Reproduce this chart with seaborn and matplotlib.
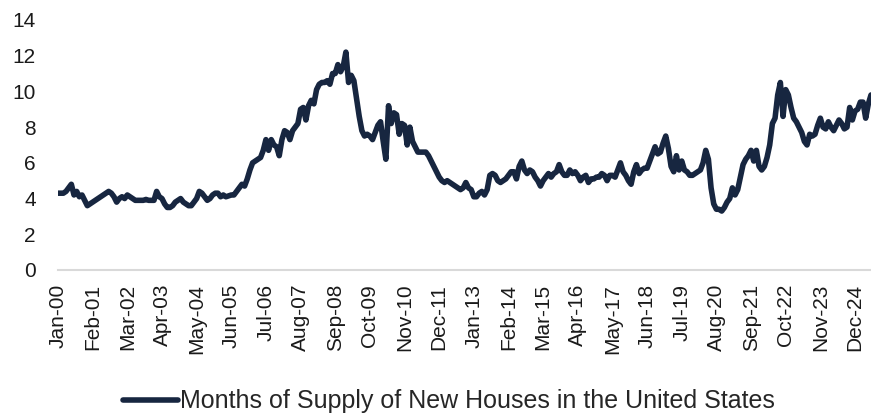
import numpy as np
import pandas as pd
import matplotlib.pyplot as plt
import seaborn as sns

# months of supply, Jan 2000 - Jun 2025
supply_2000 = [4.3, 4.3, 4.3, 4.4, 4.6, 4.8, 4.2, 4.4, 4.1, 4.2, 3.9, 3.6]
supply_2001 = [3.7, 3.8, 3.9, 4.0, 4.1, 4.2, 4.3, 4.4, 4.3, 4.1, 3.8, 4.0]
supply_2002 = [4.1, 4.0, 4.2, 4.1, 4.0, 3.9, 3.9, 3.9, 3.9, 3.95, 3.9, 3.9]
supply_2003 = [3.9, 4.4, 4.1, 4.0, 3.7, 3.5, 3.5, 3.6, 3.8, 3.9, 4.0, 3.8]
supply_2004 = [3.7, 3.6, 3.6, 3.8, 4.0, 4.4, 4.3, 4.1, 3.9, 4.0, 4.2, 4.3]
supply_2005 = [4.3, 4.1, 4.2, 4.1, 4.15, 4.2, 4.2, 4.4, 4.6, 4.8, 4.7, 5.1]
supply_2006 = [5.6, 6.0, 6.1, 6.2, 6.3, 6.7, 7.3, 6.7, 7.3, 7.0, 6.9, 6.4]
supply_2007 = [7.3, 7.8, 7.7, 7.3, 7.8, 8.0, 8.2, 9.0, 9.1, 8.4, 9.2, 9.5]
supply_2008 = [9.3, 10.1, 10.4, 10.5, 10.5, 10.6, 10.4, 11.0, 11.0, 11.5, 11.1, 11.4]
supply_2009 = [12.2, 10.5, 10.9, 10.6, 9.6, 8.6, 7.8, 7.5, 7.6, 7.5, 7.3, 7.7]
supply_2010 = [8.1, 8.3, 7.2, 6.2, 9.2, 8.2, 8.8, 8.7, 7.6, 8.2, 8.1, 7.0]
supply_2011 = [8.0, 7.2, 6.9, 6.6, 6.6, 6.6, 6.6, 6.4, 6.1, 5.8, 5.5, 5.2]
supply_2012 = [5.0, 4.9, 5.0, 4.9, 4.8, 4.7, 4.6, 4.5, 4.6, 4.9, 4.6, 4.5]
supply_2013 = [4.1, 4.1, 4.3, 4.4, 4.2, 4.5, 5.3, 5.4, 5.3, 5.0, 4.9, 5.0]
supply_2014 = [5.1, 5.3, 5.5, 5.5, 5.1, 5.8, 6.1, 5.6, 5.4, 5.6, 5.5, 5.2]
supply_2015 = [5.0, 4.7, 5.0, 5.2, 5.4, 5.2, 5.4, 5.5, 5.9, 5.5, 5.3, 5.3]
supply_2016 = [5.6, 5.4, 5.5, 5.3, 5.0, 5.2, 5.3, 4.9, 5.1, 5.1, 5.2, 5.2]
supply_2017 = [5.4, 5.3, 5.0, 5.3, 5.3, 5.2, 5.6, 6.0, 5.5, 5.3, 5.0, 4.8]
supply_2018 = [5.5, 5.9, 5.4, 5.6, 5.7, 5.7, 6.1, 6.5, 6.9, 6.5, 6.6, 7.1]
supply_2019 = [7.5, 6.8, 5.8, 5.5, 6.4, 5.6, 6.1, 5.6, 5.5, 5.3, 5.3, 5.4]
supply_2020 = [5.5, 5.6, 6.0, 6.7, 6.2, 4.6, 3.7, 3.4, 3.4, 3.3, 3.5, 3.8]
supply_2021 = [4.0, 4.6, 4.2, 4.5, 5.2, 5.9, 6.2, 6.4, 6.7, 6.1, 6.7, 5.8]
supply_2022 = [5.6, 5.8, 6.3, 7.0, 8.2, 8.5, 9.8, 10.5, 8.6, 10.1, 9.8, 9.1]
supply_2023 = [8.5, 8.3, 8.0, 7.7, 7.2, 7.0, 7.6, 7.5, 7.6, 8.1, 8.5, 8.0]
supply_2024 = [7.9, 8.3, 8.0, 7.8, 8.1, 8.4, 8.2, 7.9, 8.0, 9.1, 8.4, 8.9]
supply_2025 = [9.0, 9.4, 9.4, 8.5, 9.3, 9.8]

series_name = "Months of Supply of New Houses in the United States"

supply = (supply_2000 + supply_2001 + supply_2002 + supply_2003 + supply_2004
          + supply_2005 + supply_2006 + supply_2007 + supply_2008 + supply_2009
          + supply_2010 + supply_2011 + supply_2012 + supply_2013 + supply_2014
          + supply_2015 + supply_2016 + supply_2017 + supply_2018 + supply_2019
          + supply_2020 + supply_2021 + supply_2022 + supply_2023 + supply_2024
          + supply_2025)
dates = pd.date_range("2000-01-01", periods=len(supply), freq="MS")

df = pd.DataFrame({"pos": np.arange(len(supply)), "value": supply,
                   "series": series_name})

sns.set_theme(style="white")
plt.rcParams["font.family"] = ["Liberation Sans", "DejaVu Sans"]

fig = plt.figure(figsize=(8.71, 4.16), dpi=100)
ax = fig.add_axes([0.0666, 0.351, 0.9334, 0.601])

sns.lineplot(data=df, x="pos", y="value", hue="series", palette=["#172640"],
             linewidth=4, ax=ax, legend=False)

ax.set_xlim(0, len(supply) - 1)
ax.set_ylim(0, 14)
ax.set_yticks(range(0, 15, 2))
tick_pos = list(range(0, len(supply), 13))
ax.set_xticks(tick_pos)
ax.set_xticklabels([dates[i].strftime("%b-%y") for i in tick_pos], rotation=90)
ax.tick_params(axis="both", labelsize=15, length=0, colors="#1a1a1a")
ax.tick_params(axis="y", pad=16)
ax.tick_params(axis="x", pad=10)
ax.set_xlabel("")
ax.set_ylabel("")
for side in ["top", "right", "left"]:
    ax.spines[side].set_visible(False)
ax.spines["bottom"].set_color("#d9d9d9")
ax.spines["bottom"].set_linewidth(1.5)

handle = plt.Line2D([], [], color="#172640", linewidth=4)
fig.legend([handle], [series_name], loc="center", bbox_to_anchor=(0.515, 0.035),
           frameon=False, handlelength=2.2, handletextpad=0.08,
           prop={"family": ["Liberation Sans"], "size": 18})

fig.savefig("out.png", dpi=100)
